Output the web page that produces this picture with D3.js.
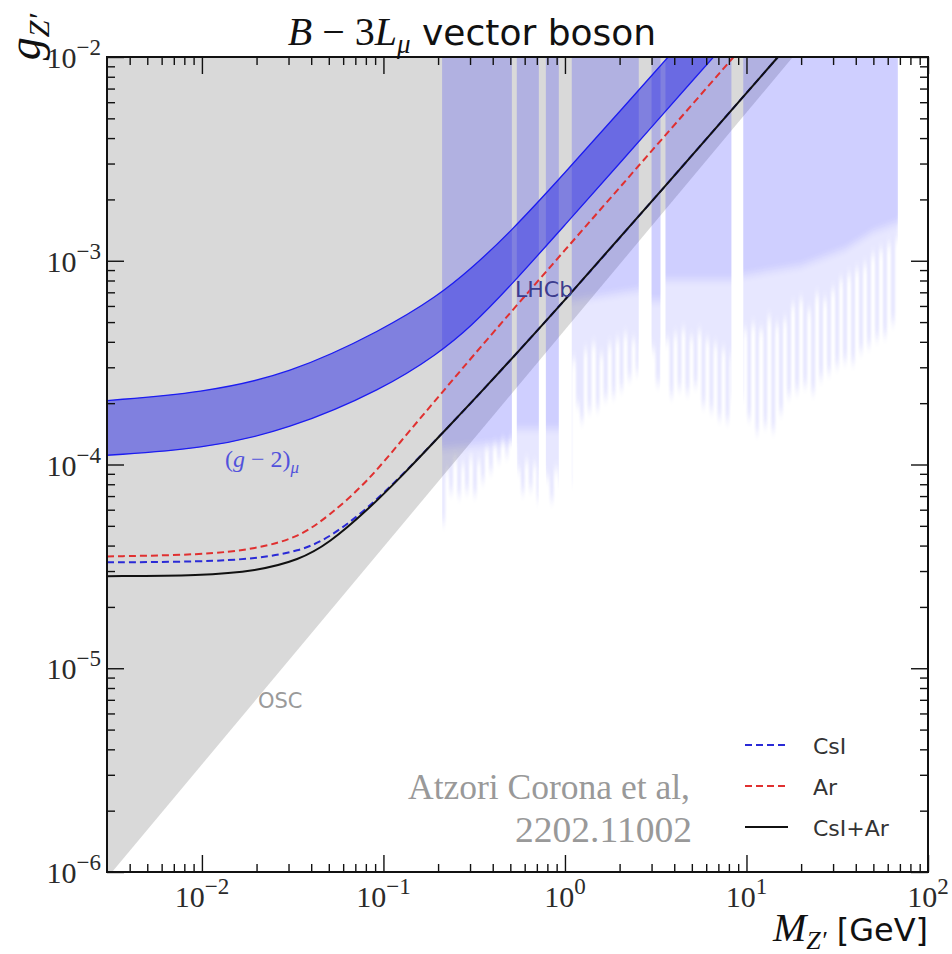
<!DOCTYPE html>
<html>
<head>
<meta charset="utf-8">
<script src="https://cdn.jsdelivr.net/npm/d3@7"></script>
<style>
  body { margin: 0; background: #fff; }
  svg { display: block; }
</style>
</head>
<body>
<svg id="chart" width="952" height="954"></svg>
<script>
// Axis ranges and labelled ticks
var massDomain = [0.003, 100];
var couplingDomain = [1e-6, 1e-2];
var massTicks = [0.01, 0.1, 1, 10, 100];
var massTickExp = ["\u22122", "\u22121", "0", "1", "2"];
var couplingTicks = [1e-6, 1e-5, 1e-4, 1e-3, 1e-2];
var couplingTickExp = ["\u22126", "\u22125", "\u22124", "\u22123", "\u22122"];

// Oscillation (OSC) bound, a straight edge in log-log
var oscEdge = [[0.0032, 1e-6], [18, 1e-2]];

// (g-2)_mu preferred band
var g2Mass  = [0.003, 0.01, 0.03, 0.1, 0.2, 0.3, 0.5, 1, 2, 5, 10];
var g2Lower = [1.11e-4, 1.19e-4, 1.48e-4, 2.35e-4, 3.5e-4, 4.7e-4, 7.5e-4, 1.5e-3, 3.0e-3, 7.6e-3, 1.52e-2];
var g2Upper = [2.06e-4, 2.25e-4, 2.76e-4, 4.59e-4, 6.73e-4, 9.04e-4, 1.38e-3, 2.7e-3, 5.4e-3, 1.35e-2, 2.7e-2];

// CEvNS sensitivity curves
var sensMass  = [0.003, 0.01, 0.02, 0.0344, 0.05, 0.0805, 0.13, 0.21, 0.336, 1, 3, 20];
var csiSens   = [3.31e-5, 3.33e-5, 3.45e-5, 3.75e-5, 4.35e-5, 6.0e-5, 9.05e-5, 1.42e-4, 2.2e-4, 6.4e-4, 1.95e-3, 1.35e-2];
var arSens    = [3.54e-5, 3.6e-5, 3.85e-5, 4.4e-5, 5.6e-5, 8.1e-5, 1.36e-4, 2.25e-4, 3.7e-4, 1.13e-3, 3.45e-3, 2.4e-2];
var csiArSens = [2.83e-5, 2.85e-5, 3.0e-5, 3.4e-5, 4.1e-5, 5.9e-5, 9.0e-5, 1.42e-4, 2.2e-4, 6.4e-4, 1.95e-3, 1.35e-2];

// LHCb dark photon search: mass windows (GeV)
var lhcbRanges = [[0.21, 0.51], [0.543, 0.718], [0.785, 0.925], [1.09, 2.55],
                  [3.0, 3.36], [3.58, 8.26], [9.6, 68.3]];
// solid part of the exclusion
var lhcbCore = [[0.21, 1.2e-4], [0.51, 1.3e-4], [0.543, 1.5e-4], [0.718, 1.5e-4],
                [0.785, 1.5e-4], [0.925, 1.5e-4], [1.09, 6.4e-4], [2.55, 7.2e-4],
                [3.0, 6.4e-4], [3.36, 6.4e-4], [3.58, 8.1e-4], [8.26, 8.1e-4],
                [9.6, 8.5e-4], [20, 9.5e-4], [35, 1.15e-3], [50, 1.4e-3], [68.3, 1.55e-3]];
// ragged reach of the limit below the solid part
var lhcbReach = [
  [0.210, 5.2e-5], [0.219, 9.4e-5], [0.230, 7.4e-5], [0.242, 1.06e-4], [0.255, 7.1e-5],
  [0.268, 1.0e-4], [0.281, 7.5e-5], [0.296, 1.08e-4], [0.311, 7.2e-5], [0.327, 1.04e-4],
  [0.344, 8.4e-5], [0.362, 1.19e-4], [0.381, 9.4e-5], [0.401, 1.25e-4], [0.422, 1.06e-4],
  [0.444, 1.33e-4], [0.467, 1.12e-4], [0.491, 1.36e-4], [0.510, 1.25e-4],
  [0.543, 9.45e-5], [0.572, 7.37e-5], [0.600, 1.04e-4], [0.632, 7.7e-5], [0.664, 1.0e-4],
  [0.698, 6.73e-5], [0.718, 9.45e-5],
  [0.785, 8.6e-5], [0.825, 6.73e-5], [0.867, 9.45e-5], [0.925, 7.98e-5],
  [1.09, 3.27e-4], [1.15, 1.97e-4], [1.21, 1.66e-4], [1.27, 3.66e-4], [1.33, 1.86e-4],
  [1.40, 3.88e-4], [1.48, 1.90e-4], [1.55, 3.46e-4], [1.63, 2.13e-4], [1.72, 3.88e-4],
  [1.81, 2.20e-4], [1.90, 4.10e-4], [2.00, 2.38e-4], [2.10, 4.34e-4], [2.21, 2.67e-4],
  [2.33, 4.10e-4], [2.45, 2.86e-4], [2.55, 3.88e-4],
  [3.00, 3.66e-4], [3.16, 2.52e-4], [3.36, 3.88e-4],
  [3.58, 4.10e-4], [3.77, 2.20e-4], [3.96, 4.34e-4], [4.17, 2.38e-4], [4.38, 4.59e-4],
  [4.61, 2.28e-4], [4.85, 4.20e-4], [5.11, 2.47e-4], [5.37, 4.49e-4], [5.65, 1.97e-4],
  [5.94, 4.10e-4], [6.25, 1.86e-4], [6.58, 3.88e-4], [6.92, 1.70e-4], [7.28, 3.66e-4],
  [7.66, 1.66e-4], [8.05, 3.46e-4], [8.26, 2.08e-4],
  [9.60, 4.59e-4], [10.1, 1.70e-4], [10.6, 4.85e-4], [11.2, 1.45e-4], [11.7, 4.59e-4],
  [12.4, 1.57e-4], [13.0, 5.26e-4], [13.7, 1.49e-4], [14.4, 4.85e-4], [15.1, 1.82e-4],
  [15.9, 5.14e-4], [16.7, 2.20e-4], [17.6, 6.08e-4], [18.5, 2.33e-4], [19.5, 6.44e-4],
  [20.5, 2.47e-4], [21.6, 5.75e-4], [22.7, 2.28e-4], [23.9, 6.81e-4], [25.1, 2.67e-4],
  [26.4, 6.44e-4], [27.8, 2.86e-4], [29.2, 7.21e-4], [30.8, 3.09e-4], [32.4, 8.07e-4],
  [34.0, 3.27e-4], [35.8, 8.53e-4], [37.7, 3.20e-4], [39.6, 9.03e-4], [41.7, 3.66e-4],
  [43.9, 9.55e-4], [46.1, 3.88e-4], [48.5, 1.07e-3], [51.1, 4.20e-4], [53.7, 1.13e-3],
  [56.5, 4.34e-4], [59.4, 1.20e-3], [62.5, 5.02e-4], [65.8, 1.27e-3], [68.3, 6.44e-4]
];

// Legend entries
var legendLabels = ["CsI", "Ar", "CsI+Ar"];
var legendColors = ["#2a2ad6", "#e03030", "#111111"];
var legendDash = ["7,4", "7,4", null];

var serif = "'Liberation Serif', 'Times New Roman', serif";
var sans = "'DejaVu Sans', sans-serif";

var svg = d3.select("#chart");
var box = {left: 107, right: 928, top: 57, bottom: 872};

var x = d3.scaleLog().domain(massDomain).range([box.left, box.right]);
var y = d3.scaleLog().domain(couplingDomain).range([box.bottom, box.top]);

var defs = svg.append("defs");
defs.append("clipPath").attr("id", "frame-clip")
  .append("rect")
  .attr("x", box.left).attr("y", box.top)
  .attr("width", box.right - box.left)
  .attr("height", box.bottom - box.top);

defs.append("clipPath").attr("id", "lhcb-clip")
  .selectAll("rect")
  .data(lhcbRanges)
  .enter().append("rect")
  .attr("x", function(d) { return x(d[0]); })
  .attr("y", box.top)
  .attr("width", function(d) { return x(d[1]) - x(d[0]); })
  .attr("height", box.bottom - box.top);

// vertical smear so the limit fades out instead of ending hard
defs.append("filter").attr("id", "streak")
  .attr("x", "-5%").attr("y", "-10%").attr("width", "110%").attr("height", "120%")
  .append("feGaussianBlur").attr("stdDeviation", "1 6");
defs.append("filter").attr("id", "fade")
  .attr("x", "-5%").attr("y", "-10%").attr("width", "110%").attr("height", "120%")
  .append("feGaussianBlur").attr("stdDeviation", "0.3 4");

var plot = svg.append("g").attr("clip-path", "url(#frame-clip)");

// OSC excluded region
var oscPoly = [[massDomain[0], couplingDomain[1]], oscEdge[1], oscEdge[0],
               [massDomain[0], couplingDomain[0]]];
plot.append("path")
  .attr("d", d3.line()
    .x(function(d) { return x(d[0]); })
    .y(function(d) { return y(d[1]); })(oscPoly) + "Z")
  .style("fill", "#d9d9d9");

// LHCb windows, filled from the top down to the limit
var lhcb = plot.append("g").attr("clip-path", "url(#lhcb-clip)");
var lhcbArea = d3.area()
  .x(function(d) { return x(d[0]); })
  .y0(box.top - 20)
  .y1(function(d) { return y(d[1]); });
lhcb.append("path")
  .attr("d", lhcbArea.curve(d3.curveStepAfter)(lhcbReach))
  .attr("filter", "url(#streak)")
  .style("fill", "rgb(40,40,255)")
  .style("opacity", 0.11);
lhcb.append("path")
  .attr("d", lhcbArea.curve(d3.curveLinear)(lhcbCore))
  .attr("filter", "url(#fade)")
  .style("fill", "rgb(40,40,255)")
  .style("opacity", 0.12);

// (g-2)_mu band
var g2 = g2Mass.map(function(m, i) { return {m: m, lo: g2Lower[i], hi: g2Upper[i]}; });
plot.append("path")
  .attr("d", d3.area().curve(d3.curveBasis)
    .x(function(d) { return x(d.m); })
    .y0(function(d) { return y(d.lo); })
    .y1(function(d) { return y(d.hi); })(g2))
  .style("fill", "rgb(20,20,230)")
  .style("opacity", 0.45);
["lo", "hi"].forEach(function(k) {
  plot.append("path")
    .attr("d", d3.line().curve(d3.curveBasis)
      .x(function(d) { return x(d.m); })
      .y(function(d) { return y(d[k]); })(g2))
    .style("fill", "none")
    .style("stroke", "#1c1cf0")
    .style("stroke-width", 1.3);
});

// sensitivity curves
var sensLine = d3.line().curve(d3.curveBasis)
  .x(function(d, i) { return x(sensMass[i]); })
  .y(function(d) { return y(d); });
[csiSens, arSens, csiArSens].forEach(function(s, i) {
  plot.append("path")
    .attr("d", sensLine(s))
    .style("fill", "none")
    .style("stroke", legendColors[i])
    .style("stroke-width", 2)
    .style("stroke-dasharray", legendDash[i]);
});

// region labels
svg.append("text")
  .attr("x", 515).attr("y", 297)
  .style("font-family", sans).style("font-size", "22px")
  .style("fill", "#3c3c8e")
  .text("LHCb");

var g2Label = svg.append("text")
  .attr("x", 225).attr("y", 467)
  .style("font-family", serif).style("font-size", "24px")
  .style("fill", "#5252dc");
g2Label.append("tspan").text("(");
g2Label.append("tspan").style("font-style", "italic").text("g");
g2Label.append("tspan").text(" \u2212 2)");
g2Label.append("tspan").style("font-style", "italic").style("font-size", "17px")
  .attr("dy", 6).text("\u03bc");

svg.append("text")
  .attr("x", 258).attr("y", 708)
  .style("font-family", sans).style("font-size", "21px")
  .style("fill", "#9a9a9a")
  .text("OSC");

// ticks, all four sides pointing inwards
function minorTicks(lo, hi) {
  var out = [];
  for (var k = Math.floor(Math.log10(lo)); k <= Math.ceil(Math.log10(hi)); k++) {
    for (var m = 2; m <= 9; m++) {
      var v = m * Math.pow(10, k);
      if (v > lo && v < hi) out.push(v);
    }
  }
  return out;
}
var massMinor = minorTicks(massDomain[0], massDomain[1]);
var couplingMinor = minorTicks(couplingDomain[0], couplingDomain[1]);

function drawAxis(axis, tx, ty) {
  var g = svg.append("g")
    .attr("transform", "translate(" + tx + "," + ty + ")")
    .call(axis.tickFormat("").tickSizeOuter(0));
  g.select(".domain").remove();
  g.selectAll(".tick line").style("stroke", "#111").style("stroke-width", 1.4);
}
[[17, massTicks], [8, massMinor]].forEach(function(t) {
  drawAxis(d3.axisBottom(x).tickValues(t[1]).tickSizeInner(-t[0]), 0, box.bottom);
  drawAxis(d3.axisTop(x).tickValues(t[1]).tickSizeInner(-t[0]), 0, box.top);
});
[[17, couplingTicks], [8, couplingMinor]].forEach(function(t) {
  drawAxis(d3.axisLeft(y).tickValues(t[1]).tickSizeInner(-t[0]), box.left, 0);
  drawAxis(d3.axisRight(y).tickValues(t[1]).tickSizeInner(-t[0]), box.right, 0);
});

svg.append("rect")
  .attr("x", box.left).attr("y", box.top)
  .attr("width", box.right - box.left)
  .attr("height", box.bottom - box.top)
  .style("fill", "none")
  .style("stroke", "#111")
  .style("stroke-width", 2);

// tick labels as 10^n
massTicks.forEach(function(v, i) {
  var t = svg.append("text")
    .attr("x", x(v)).attr("y", box.bottom + 35)
    .attr("text-anchor", "middle")
    .style("font-family", serif).style("font-size", "30px").style("fill", "#2a2a2a");
  t.append("tspan").text("10");
  t.append("tspan").attr("dy", -13).style("font-size", "23px").text(massTickExp[i]);
});
couplingTicks.forEach(function(v, i) {
  var t = svg.append("text")
    .attr("x", box.left - 6).attr("y", y(v) + 11)
    .attr("text-anchor", "end")
    .style("font-family", serif).style("font-size", "30px").style("fill", "#2a2a2a");
  t.append("tspan").text("10");
  t.append("tspan").attr("dy", -13).style("font-size", "23px").text(couplingTickExp[i]);
});

// axis titles
var xTitle = svg.append("text")
  .attr("x", box.right).attr("y", 941)
  .attr("text-anchor", "end")
  .style("font-family", serif).style("font-size", "40px").style("fill", "#111");
xTitle.append("tspan").style("font-style", "italic").text("M");
xTitle.append("tspan").style("font-style", "italic").style("font-size", "26px")
  .attr("dy", 8).text("Z\u2032");
xTitle.append("tspan").style("font-family", sans).style("font-size", "32px")
  .attr("dy", -8).text(" [GeV]");

var yTitle = svg.append("text")
  .attr("transform", "translate(40,14) rotate(-90)")
  .attr("text-anchor", "end")
  .style("font-family", serif).style("font-size", "46px").style("fill", "#111");
yTitle.append("tspan").style("font-style", "italic").text("g");
yTitle.append("tspan").style("font-style", "italic").style("font-size", "30px")
  .attr("dy", 9).text("Z\u2032");

// plot title
var title = svg.append("text")
  .attr("x", 472).attr("y", 45)
  .attr("text-anchor", "middle")
  .style("font-size", "40px").style("fill", "#111");
title.append("tspan").style("font-family", serif).style("font-style", "italic").text("B");
title.append("tspan").style("font-family", serif).text(" \u2212 3");
title.append("tspan").style("font-family", serif).style("font-style", "italic").text("L");
title.append("tspan").style("font-family", serif).style("font-style", "italic")
  .style("font-size", "27px").attr("dy", 8).text("\u03bc");
title.append("tspan").style("font-family", sans).style("font-size", "36px")
  .attr("dy", -8).text(" vector boson");

// legend
var legend = svg.append("g").attr("transform", "translate(745,754)");
legendLabels.forEach(function(lab, i) {
  var row = legend.append("g").attr("transform", "translate(0," + (i * 41) + ")");
  row.append("line")
    .attr("x1", 0).attr("x2", 43).attr("y1", -9).attr("y2", -9)
    .style("stroke", legendColors[i])
    .style("stroke-width", 2)
    .style("stroke-dasharray", legendDash[i]);
  row.append("text")
    .attr("x", 68).attr("y", 0)
    .style("font-family", sans).style("font-size", "22px").style("fill", "#333")
    .text(lab);
});

// reference note
svg.append("text")
  .attr("x", 408).attr("y", 799)
  .attr("textLength", 282).attr("lengthAdjust", "spacingAndGlyphs")
  .style("font-family", serif).style("font-size", "36px").style("fill", "#999")
  .text("Atzori Corona et al,");
svg.append("text")
  .attr("x", 515).attr("y", 842)
  .attr("textLength", 177).attr("lengthAdjust", "spacingAndGlyphs")
  .style("font-family", serif).style("font-size", "36px").style("fill", "#999")
  .text("2202.11002");
</script>
</body>
</html>
